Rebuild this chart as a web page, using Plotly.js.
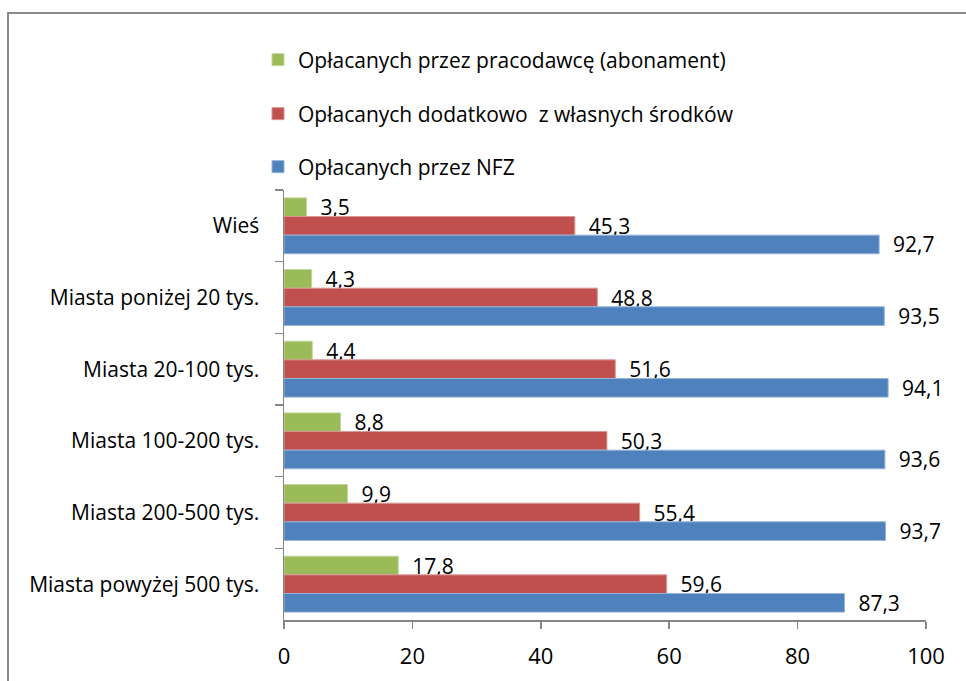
<!DOCTYPE html>
<html>
<head>
<meta charset="utf-8">
<script src="https://cdn.plot.ly/plotly-3.0.1.min.js"></script>
<style>
  html, body { margin: 0; padding: 0; background: #fff; }
  #wrap { position: relative; width: 966px; height: 681px; overflow: hidden; }
  #chart { position: absolute; left: 0; top: 0; width: 966px; height: 681px; }
  #frame { position: absolute; left: 7px; top: 12px; width: 1000px; height: 700px;
           border-top: 2px solid #8a8a8a; border-left: 2px solid #8a8a8a; pointer-events: none; }
</style>
</head>
<body>
<div id="wrap">
  <div id="chart"></div>
  <div id="frame"></div>
</div>
<script>
const categories = ["Wieś", "Miasta poniżej 20 tys.", "Miasta 20-100 tys.", "Miasta 100-200 tys.", "Miasta 200-500 tys.", "Miasta powyżej 500 tys."];
const seriesNames = ["Opłacanych przez pracodawcę (abonament)", "Opłacanych dodatkowo  z własnych środków", "Opłacanych przez NFZ"];
const employerPaid = [3.5, 4.3, 4.4, 8.8, 9.9, 17.8];
const ownFunds = [45.3, 48.8, 51.6, 50.3, 55.4, 59.6];
const nfzPaid = [92.7, 93.5, 94.1, 93.6, 93.7, 87.3];
const xTicks = [0, 20, 40, 60, 80, 100];

const FONT = "'Open Sans', Lato, sans-serif";
const colors = ["#9BBB59", "#C0504D", "#4F81BD"];
const edge = ["#c3d69b", "#d99694", "#95b3d7"];
const values = [employerPaid, ownFunds, nfzPaid];
const legendIds = ["legend", "legend2", "legend3"];

const traces = values.map((v, i) => ({
  type: "bar",
  orientation: "h",
  name: seriesNames[i],
  y: categories,
  x: v,
  marker: { color: colors[i], line: { color: edge[i], width: 1 } },
  texttemplate: "\u00a0\u00a0%{x:.1f}",
  textposition: "outside",
  constraintext: "none",
  cliponaxis: false,
  textfont: { family: FONT, size: 21, color: "#000" },
  legend: legendIds[i],
  hoverinfo: "x+name"
}));

// plot area: x 284..926 px, y 190..620 px
const legendYpx = [60, 114, 167];
const legendBase = {
  xref: "paper", yref: "paper",
  x: (258 - 284) / 642, xanchor: "left", yanchor: "middle",
  bgcolor: "rgba(0,0,0,0)", borderwidth: 0,
  font: { family: FONT, size: 21, color: "#000" },
  itemwidth: 30
};
const layout = {
  width: 966, height: 681, autosize: false,
  margin: { l: 284, r: 40, t: 190, b: 61 },
  paper_bgcolor: "#fff", plot_bgcolor: "#fff",
  separators: ", ",
  barmode: "group", bargap: 0.22, bargroupgap: 0,
  showlegend: true,
  font: { family: FONT, color: "#000" },
  xaxis: {
    range: [0, 100], tickvals: xTicks, ticktext: xTicks.map(String),
    showgrid: false, zeroline: false,
    showline: true, linecolor: "#868686", linewidth: 1.5,
    ticks: "outside", ticklen: 7, tickwidth: 1.5, tickcolor: "#868686",
    ticklabelstandoff: 9,
    tickfont: { family: FONT, size: 22, color: "#000" }
  },
  yaxis: {
    type: "category", autorange: "reversed", tickson: "boundaries",
    showgrid: false, zeroline: false,
    showline: true, linecolor: "#868686", linewidth: 1.5,
    ticks: "outside", ticklen: 8, tickwidth: 1.5, tickcolor: "#868686",
    ticklabelstandoff: 19,
    tickfont: { family: FONT, size: 21, color: "#000" }
  }
};
legendIds.forEach((id, i) => {
  layout[id] = Object.assign({}, legendBase, { y: (620 - legendYpx[i]) / 430 });
});

Plotly.newPlot("chart", traces, layout, { displayModeBar: false, staticPlot: true });
</script>
</body>
</html>
